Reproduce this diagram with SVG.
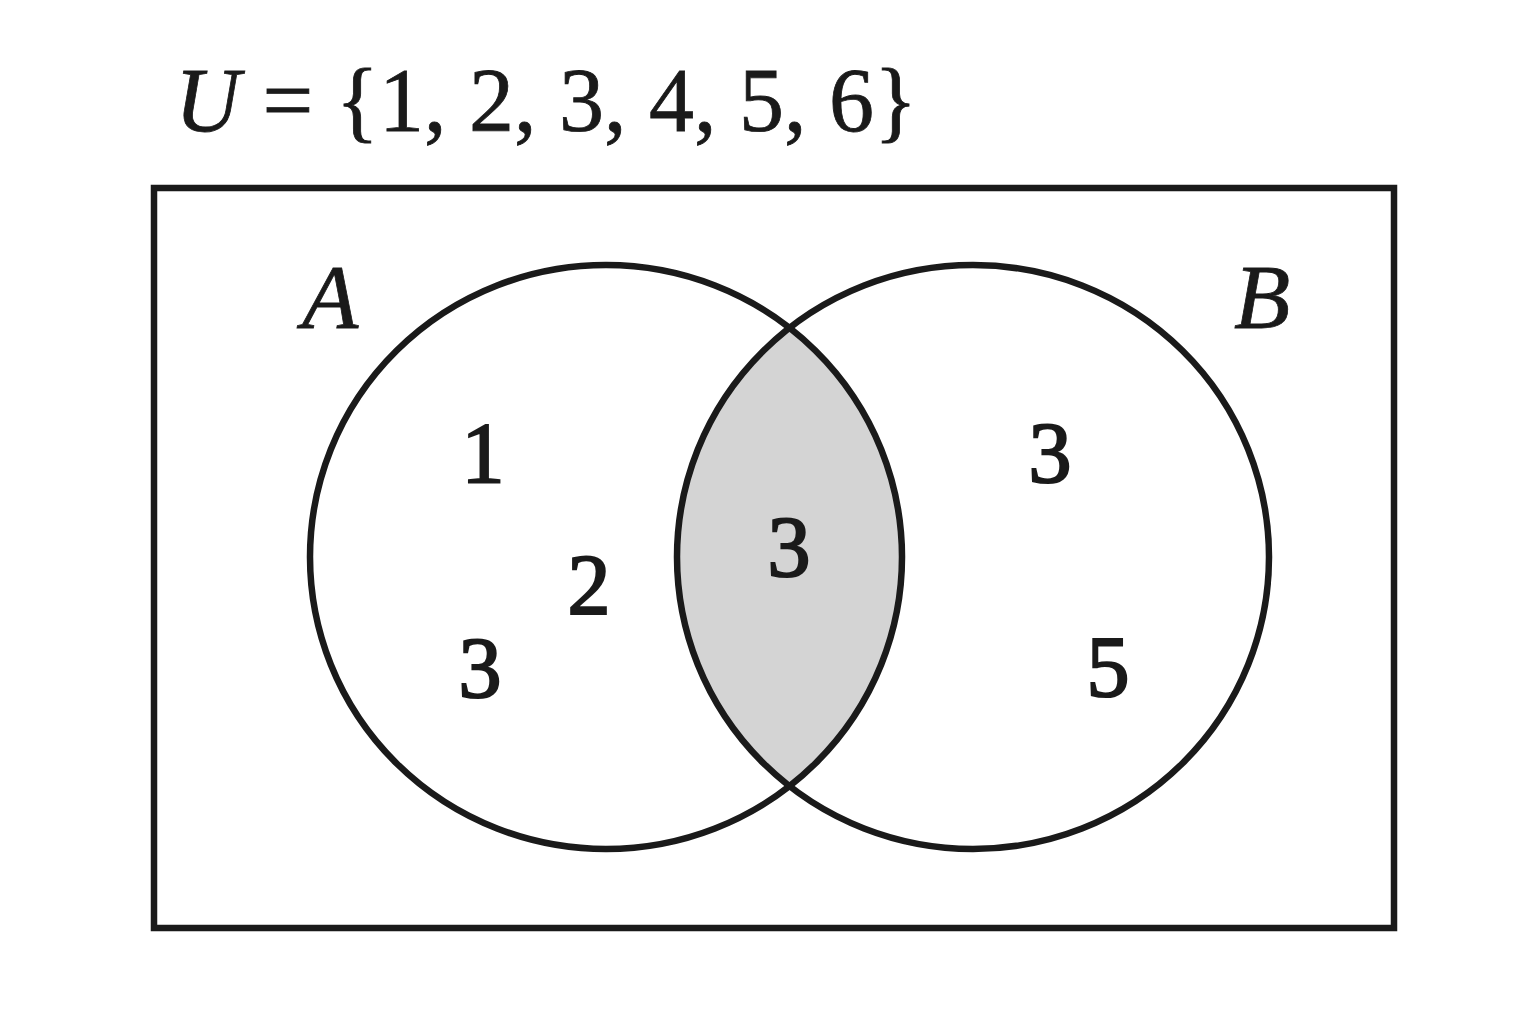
<svg xmlns="http://www.w3.org/2000/svg" width="1536" height="1024" viewBox="0 0 1536 1024">
<style>
.edge{fill:none;stroke:#1a1a1a;stroke-width:6.5}
.num{font-family:"Liberation Serif","DejaVu Serif",serif;font-size:86px;fill:#1a1a1a;stroke:#1a1a1a;stroke-width:2.2;text-anchor:middle}
.lbl{font-family:"Liberation Serif","DejaVu Serif",serif;font-size:92px;font-style:italic;fill:#1a1a1a;stroke:#1a1a1a;stroke-width:0.8;text-anchor:middle}
.title{font-family:"Liberation Serif","DejaVu Serif",serif;font-size:90px;fill:#1a1a1a;stroke:#1a1a1a;stroke-width:0.8}
</style>
<defs>
<clipPath id="clipA"><ellipse cx="606" cy="557" rx="296" ry="292"/></clipPath>
</defs>
<rect width="1536" height="1024" fill="#ffffff"/>
<g id="title"><text class="title" x="175" y="131"><tspan font-style="italic">U</tspan> = {1, 2, 3, 4, 5, 6}</text></g>
<g id="universe"><rect class="edge" x="154" y="188" width="1240" height="740"/></g>
<g id="intersection"><ellipse cx="973" cy="557" rx="296" ry="292" fill="#d4d4d4" clip-path="url(#clipA)"/></g>
<g id="setA"><ellipse class="edge" cx="606" cy="557" rx="296" ry="292"/><text class="lbl" x="330" y="328">A</text></g>
<g id="setB"><ellipse class="edge" cx="973" cy="557" rx="296" ry="292"/><text class="lbl" x="1262" y="328">B</text></g>
<g id="elements">
<text class="num" x="483" y="482">1</text>
<text class="num" x="589" y="614">2</text>
<text class="num" x="480" y="697">3</text>
<text class="num" x="789" y="576">3</text>
<text class="num" x="1050" y="482">3</text>
<text class="num" x="1108" y="696">5</text>
</g>
<g id="connectors"/>
</svg>
